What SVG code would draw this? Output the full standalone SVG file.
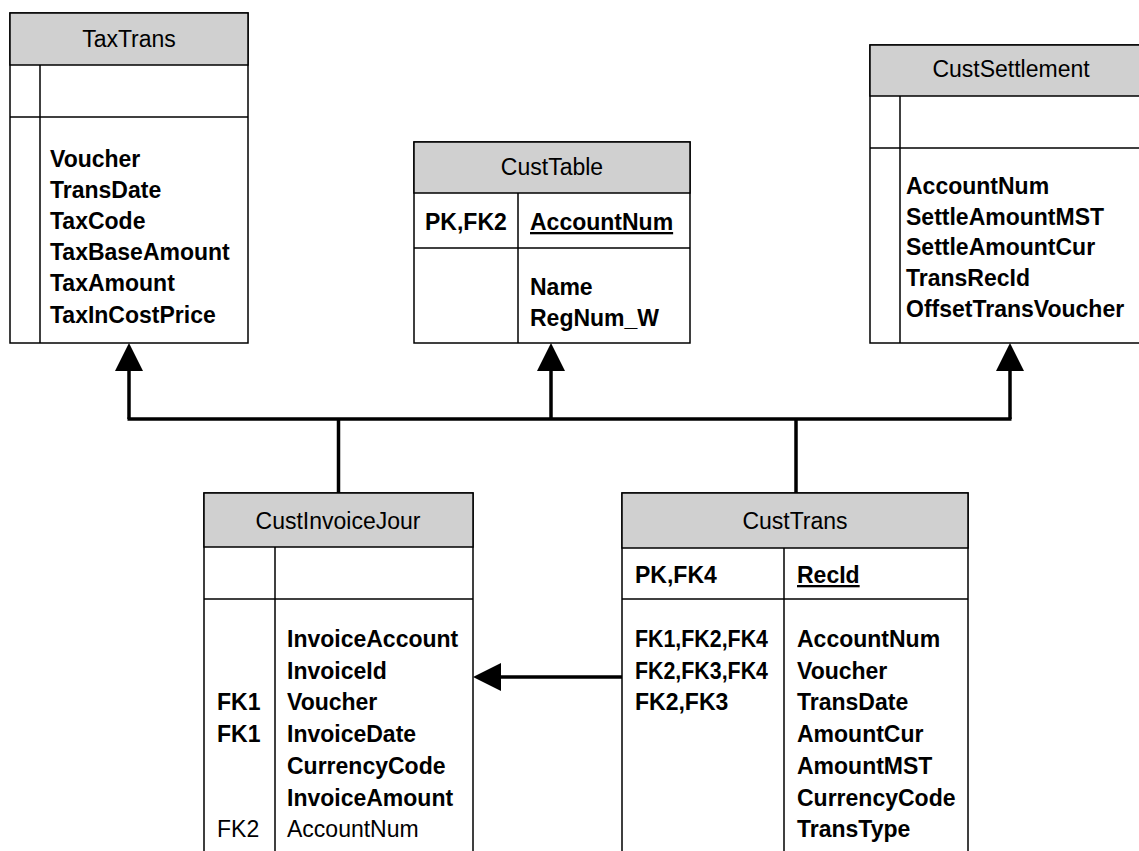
<svg xmlns="http://www.w3.org/2000/svg" width="1139" height="851" viewBox="0 0 1139 851">
<style>
.box{fill:#fff;stroke:#000;stroke-width:1.5}
.hdr{fill:#d0d0d0;stroke:#000;stroke-width:1.5}
.ln{stroke:#000;stroke-width:1.5;fill:none}
.t{font-family:"Liberation Sans",Arial,sans-serif;font-size:23px;fill:#000}
.title{text-anchor:middle}
.b{font-weight:bold}
.u{text-decoration:underline}
.con{stroke:#000;stroke-width:3.5;fill:none}
</style>
<defs>
<marker id="arr" viewBox="0 0 28 28" refX="0" refY="14" markerWidth="28" markerHeight="28" markerUnits="userSpaceOnUse" orient="auto">
<path d="M0,0 L28,14 L0,28 Z" fill="#000"/>
</marker>
</defs>
<rect width="1139" height="851" fill="#fff"/>

<g id="TaxTrans">
<rect class="box" x="10" y="13" width="238" height="330"/>
<rect class="hdr" x="10" y="13" width="238" height="52"/>
<line class="ln" x1="10" y1="117" x2="248" y2="117"/>
<line class="ln" x1="40" y1="65" x2="40" y2="343"/>
<text class="t title" x="129" y="47">TaxTrans</text>
<text class="t b" x="50" y="166.5">Voucher</text>
<text class="t b" x="50" y="197.7">TransDate</text>
<text class="t b" x="50" y="228.9">TaxCode</text>
<text class="t b" x="50" y="260.1">TaxBaseAmount</text>
<text class="t b" x="50" y="291.3">TaxAmount</text>
<text class="t b" x="50" y="322.5">TaxInCostPrice</text>
</g>

<g id="CustTable">
<rect class="box" x="414" y="142" width="276" height="201"/>
<rect class="hdr" x="414" y="142" width="276" height="51"/>
<line class="ln" x1="414" y1="248" x2="690" y2="248"/>
<line class="ln" x1="518" y1="193" x2="518" y2="343"/>
<text class="t title" x="552" y="175">CustTable</text>
<text class="t b" x="425" y="230">PK,FK2</text>
<text class="t b u" x="530" y="230">AccountNum</text>
<text class="t b" x="530" y="295">Name</text>
<text class="t b" x="530" y="325.5">RegNum_W</text>
</g>

<g id="CustSettlement">
<rect class="box" x="870" y="45" width="290" height="298"/>
<rect class="hdr" x="870" y="45" width="290" height="51"/>
<line class="ln" x1="870" y1="148" x2="1160" y2="148"/>
<line class="ln" x1="900" y1="96" x2="900" y2="343"/>
<text class="t title" x="1011" y="77">CustSettlement</text>
<text class="t b" x="906" y="194">AccountNum</text>
<text class="t b" x="906" y="224.7">SettleAmountMST</text>
<text class="t b" x="906" y="255.4">SettleAmountCur</text>
<text class="t b" x="906" y="286.1">TransRecId</text>
<text class="t b" x="906" y="316.8">OffsetTransVoucher</text>
</g>

<g id="CustInvoiceJour">
<rect class="box" x="204" y="493" width="269" height="380"/>
<rect class="hdr" x="204" y="493" width="269" height="54"/>
<line class="ln" x1="204" y1="599" x2="473" y2="599"/>
<line class="ln" x1="275" y1="547" x2="275" y2="873"/>
<text class="t title" x="338" y="529">CustInvoiceJour</text>
<text class="t b" x="287" y="647">InvoiceAccount</text>
<text class="t b" x="287" y="678.7">InvoiceId</text>
<text class="t b" x="287" y="710.4">Voucher</text>
<text class="t b" x="287" y="742.1">InvoiceDate</text>
<text class="t b" x="287" y="773.8">CurrencyCode</text>
<text class="t b" x="287" y="805.5">InvoiceAmount</text>
<text class="t" x="287" y="837.2">AccountNum</text>
<text class="t b" x="217" y="710.4">FK1</text>
<text class="t b" x="217" y="742.1">FK1</text>
<text class="t" x="217" y="837.2">FK2</text>
</g>

<g id="CustTrans">
<rect class="box" x="622" y="493" width="346" height="380"/>
<rect class="hdr" x="622" y="493" width="346" height="55"/>
<line class="ln" x1="622" y1="599" x2="968" y2="599"/>
<line class="ln" x1="784" y1="548" x2="784" y2="873"/>
<text class="t title" x="795" y="529">CustTrans</text>
<text class="t b" x="635" y="583">PK,FK4</text>
<text class="t b u" x="797" y="583">RecId</text>
<text class="t b" x="635" y="647" textLength="133" lengthAdjust="spacingAndGlyphs">FK1,FK2,FK4</text>
<text class="t b" x="635" y="678.7" textLength="133" lengthAdjust="spacingAndGlyphs">FK2,FK3,FK4</text>
<text class="t b" x="635" y="710.4">FK2,FK3</text>
<text class="t b" x="797" y="647">AccountNum</text>
<text class="t b" x="797" y="678.7">Voucher</text>
<text class="t b" x="797" y="710.4">TransDate</text>
<text class="t b" x="797" y="742.1">AmountCur</text>
<text class="t b" x="797" y="773.8">AmountMST</text>
<text class="t b" x="797" y="805.5">CurrencyCode</text>
<text class="t b" x="797" y="837.2">TransType</text>
</g>

<g id="connectors">
<line class="con" x1="127.5" y1="419" x2="1011.5" y2="419"/>
<line class="con" x1="129" y1="419" x2="129" y2="371" marker-end="url(#arr)"/>
<line class="con" x1="551" y1="419" x2="551" y2="371" marker-end="url(#arr)"/>
<line class="con" x1="1010" y1="419" x2="1010" y2="371" marker-end="url(#arr)"/>
<line class="con" x1="338.5" y1="419" x2="338.5" y2="493"/>
<line class="con" x1="796" y1="419" x2="796" y2="493"/>
<line class="con" x1="622" y1="677" x2="501" y2="677" marker-end="url(#arr)"/>
</g>
</svg>
